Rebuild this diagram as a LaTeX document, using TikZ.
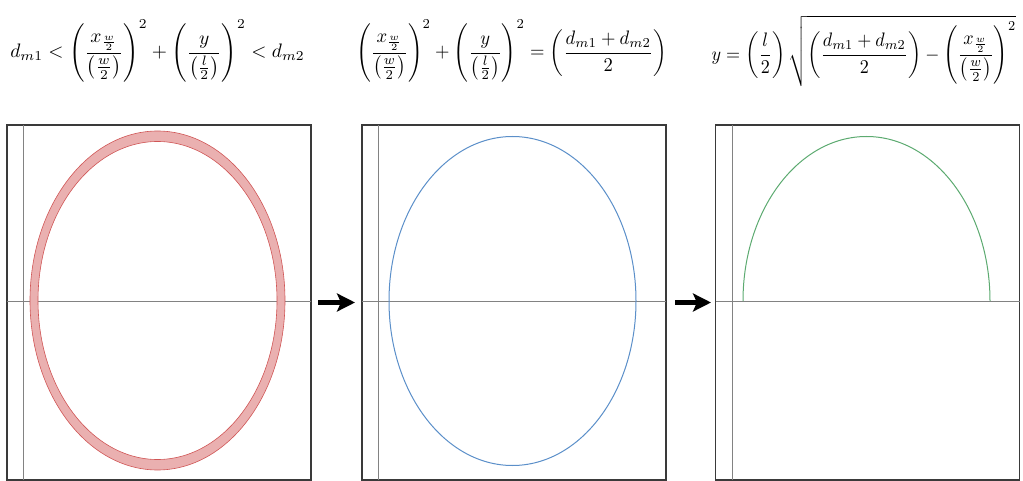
\documentclass[tikz,border=0pt]{standalone}
\usepackage{amsmath}
\usetikzlibrary{arrows.meta}
\definecolor{boxcol}{RGB}{58,58,58}
\definecolor{axiscol}{RGB}{130,130,130}
\definecolor{bandfill}{RGB}{234,176,176}
\definecolor{banddraw}{RGB}{208,86,86}
\definecolor{bluecol}{RGB}{91,143,201}
\definecolor{greencol}{RGB}{92,170,112}
\tikzset{
  panel/.style={draw=boxcol, line width=1.8pt, minimum width=304pt, minimum height=355pt, outer sep=0pt, inner sep=0pt},
  axisline/.style={draw=axiscol, line width=0.9pt},
  bigarrow/.style={line width=4.5pt, -{Stealth[length=18pt,width=18pt,inset=4pt]}},
  eq/.style={yscale=1.95, inner sep=0pt}
}
\begin{document}
\begin{tikzpicture}[x=1pt,y=-1pt]
\useasboundingbox (0,0) rectangle (1023,481);
% panels
\node[panel] (p1) at (159,302.5) {};
\node[panel] (p2) at (514,302.5) {};
\node[panel] (p3) at (867.5,302.5) {};
% axes
\draw[axisline] (23,125) -- (23,480);
\draw[axisline] (7,301) -- (311,301);
\draw[axisline] (378,125) -- (378,480);
\draw[axisline] (362,301) -- (666,301);
\draw[axisline] (732,125) -- (732,480);
\draw[axisline] (715.5,301) -- (1019.5,301);
% panel 1 band
\coordinate (c1) at (157.5,300.5);
\fill[bandfill, even odd rule] (c1) ellipse[x radius=127.5pt, y radius=169.5pt] (c1) ellipse[x radius=119.5pt, y radius=159pt];
\draw[banddraw, line width=0.6pt] (c1) ellipse[x radius=127.5pt, y radius=169.5pt];
\draw[banddraw, line width=0.6pt] (c1) ellipse[x radius=119.5pt, y radius=159pt];
% panel 2 ellipse
\coordinate (c2) at (512.5,301);
\draw[bluecol, line width=1pt] (c2) ellipse[x radius=123.5pt, y radius=164.5pt];
% panel 3 arc
\coordinate (a3) at (743,301);
\draw[greencol, line width=1pt] (a3) arc[start angle=180, end angle=0, x radius=123.5pt, y radius=164.5pt];
% arrows
\draw[bigarrow] ([xshift=7pt]p1.east) -- ([xshift=-7pt]p2.west);
\draw[bigarrow] ([xshift=9pt]p2.east) -- ([xshift=-4.5pt]p3.west);
% equations
\node[eq, xscale=1.95] (e1) at (157.5,51) {$\displaystyle d_{m1} < \left(\frac{x_{\frac{w}{2}}}{\left(\frac{w}{2}\right)}\right)^{2} + \left(\frac{y}{\left(\frac{l}{2}\right)}\right)^{2} < d_{m2}$};
\node[eq, xscale=1.86] (e2) at (511.5,51) {$\displaystyle \left(\frac{x_{\frac{w}{2}}}{\left(\frac{w}{2}\right)}\right)^{2} + \left(\frac{y}{\left(\frac{l}{2}\right)}\right)^{2} = \left(\frac{d_{m1}+d_{m2}}{2}\right)$};
\node[eq, xscale=1.81] (e3) at (864,51) {$\displaystyle y = \left(\frac{l}{2}\right)\sqrt{\left(\frac{d_{m1}+d_{m2}}{2}\right) - \left(\frac{x_{\frac{w}{2}}}{\left(\frac{w}{2}\right)}\right)^{2}}$};
\end{tikzpicture}
\end{document}
